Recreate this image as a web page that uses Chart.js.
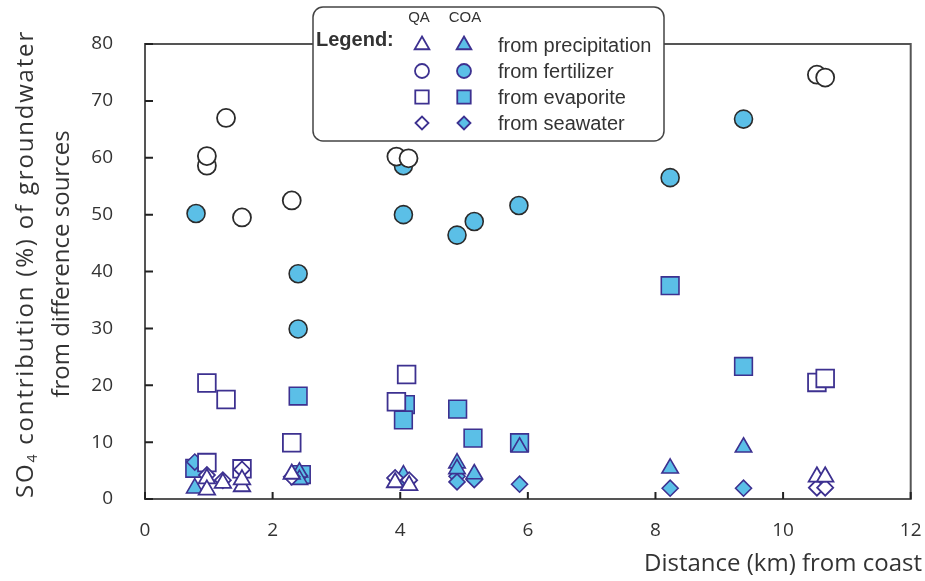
<!DOCTYPE html>
<html>
<head>
<meta charset="utf-8">
<script src="https://cdn.jsdelivr.net/npm/chart.js@4/dist/chart.umd.min.js"></script>
<style>html,body{margin:0;background:#fff}</style>
</head>
<body>
<canvas id="chart" width="925" height="581"></canvas>
<script>
// SO4 sources, QA = open markers, COA = filled markers
const precQA_x = [0.97, 0.97, 1.22, 1.52, 1.52, 2.3, 3.92, 4.14, 10.53, 10.66];
const precQA_y = [3.6, 1.6, 2.8, 2.2, 3.4, 4.4, 2.9, 2.4, 3.9, 3.9];
const seaQA_x = [0.97, 1.22, 1.52, 2.3, 3.92, 4.14, 10.53, 10.66];
const seaQA_y = [4.2, 3.3, 5.2, 3.9, 3.7, 3.3, 2.0, 2.0];
const evapQA_x = [0.97, 1.27, 0.97, 1.52, 2.3, 3.94, 4.1, 10.53, 10.66];
const evapQA_y = [20.4, 17.5, 6.4, 5.3, 9.9, 17.1, 21.9, 20.5, 21.2];
const fertQA_x = [0.97, 0.97, 1.27, 1.52, 2.3, 3.94, 4.13, 10.53, 10.66];
const fertQA_y = [58.6, 60.3, 67.0, 49.5, 52.5, 60.2, 59.9, 74.6, 74.1];

const precCOA_x = [0.78, 2.42, 2.42, 4.05, 4.89, 4.89, 5.16, 5.87, 8.23, 9.38];
const precCOA_y = [1.9, 4.7, 3.4, 4.2, 6.3, 5.3, 4.4, 9.1, 5.4, 9.1];
const seaCOA_x = [0.78, 2.42, 4.05, 4.89, 4.89, 5.16, 5.87, 8.23, 9.38];
const seaCOA_y = [6.5, 4.1, 3.6, 4.0, 3.0, 3.4, 2.6, 1.9, 1.9];
const evapCOA_x = [0.78, 2.4, 2.45, 4.08, 4.05, 4.9, 5.14, 5.87, 8.23, 9.38];
const evapCOA_y = [5.4, 18.1, 4.3, 16.6, 13.9, 15.8, 10.7, 9.9, 37.5, 23.3];
const fertCOA_x = [0.8, 2.4, 2.4, 4.05, 4.05, 4.89, 5.16, 5.86, 8.23, 9.38];
const fertCOA_y = [50.2, 39.6, 29.9, 58.6, 50.0, 46.4, 48.8, 51.6, 56.5, 66.8];

const xTicks = [0, 2, 4, 6, 8, 10, 12];
const yTicks = [0, 10, 20, 30, 40, 50, 60, 70, 80];
const legendLabels = ['from precipitation', 'from fertilizer', 'from evaporite', 'from seawater'];

const purple = '#3d3190';
const cyan = '#5bbfe7';
const dark = '#2b2b2b';
const textCol = '#333';

function pts(xs, ys) {
    return xs.map((x, i) => ({ x: x, y: ys[i] }));
}

function ds(label, xs, ys, style, filled, radius) {
    const edge = style === 'circle' ? dark : purple;
    return {
        label: label,
        data: pts(xs, ys),
        pointStyle: style,
        pointRadius: radius,
        pointHoverRadius: radius,
        pointBorderWidth: filled ? 1.6 : 1.8,
        borderColor: edge,
        backgroundColor: filled ? cyan : '#fff',
        showLine: false
    };
}

// first dataset is painted last (on top)
const datasets = [
    ds('QA precipitation', precQA_x, precQA_y, 'triangle', false, 9.5),
    ds('QA seawater', seaQA_x, seaQA_y, 'rectRot', false, 8),
    ds('QA evaporite', evapQA_x, evapQA_y, 'rect', false, 12.5),
    ds('QA fertilizer', fertQA_x, fertQA_y, 'circle', false, 9),
    ds('COA precipitation', precCOA_x, precCOA_y, 'triangle', true, 9.5),
    ds('COA seawater', seaCOA_x, seaCOA_y, 'rectRot', true, 8),
    ds('COA evaporite', evapCOA_x, evapCOA_y, 'rect', true, 12.5),
    ds('COA fertilizer', fertCOA_x, fertCOA_y, 'circle', true, 9)
];

const framePlugin = {
    id: 'frame',
    beforeDatasetsDraw(chart) {
        const { ctx, chartArea: a, scales } = chart;
        ctx.save();
        ctx.strokeStyle = '#555';
        ctx.lineWidth = 2;
        ctx.strokeRect(a.left, a.top, a.right - a.left, a.bottom - a.top);
        // inward tick marks
        ctx.strokeStyle = '#222';
        ctx.lineWidth = 2;
        ctx.beginPath();
        xTicks.forEach(v => {
            const px = scales.x.getPixelForValue(v);
            ctx.moveTo(px, a.bottom);
            ctx.lineTo(px, a.bottom - 7);
        });
        yTicks.forEach(v => {
            const py = scales.y.getPixelForValue(v);
            ctx.moveTo(a.left, py);
            ctx.lineTo(a.left + 8, py);
        });
        ctx.stroke();
        ctx.restore();
    },
    afterDraw(chart) {
        const ctx = chart.ctx;
        ctx.save();
        ctx.fillStyle = textCol;
        // y title, two rotated lines
        ctx.translate(26, 264);
        ctx.rotate(-Math.PI / 2);
        ctx.textBaseline = 'middle';
        const big = '24px "Open Sans"';
        const small = '14px "Open Sans"';
        const p1 = 'SO', p3 = ' contribution (%) of groundwater';
        ctx.font = big;
        const raw = ctx.measureText(p1 + p3).width;
        const sp = Math.max(0, (460 - raw) / (p1.length + p3.length + 1));
        ctx.letterSpacing = sp + 'px';
        const w1 = ctx.measureText(p1).width;
        const w3 = ctx.measureText(p3).width;
        ctx.font = small;
        const w2 = ctx.measureText('4').width;
        let sx = -(w1 + w2 + w3) / 2;
        ctx.font = big;
        ctx.textAlign = 'left';
        ctx.fillText(p1, sx, 0);
        ctx.font = small;
        ctx.fillText('4', sx + w1, 7);
        ctx.font = big;
        ctx.fillText(p3, sx + w1 + w2, 0);
        ctx.letterSpacing = '0px';
        ctx.textAlign = 'center';
        ctx.fillText('from difference sources', 0, 36);
        ctx.restore();

        // x title
        ctx.save();
        ctx.fillStyle = textCol;
        ctx.font = '24px "Open Sans"';
        ctx.textAlign = 'right';
        ctx.textBaseline = 'middle';
        ctx.fillText('Distance (km) from coast', 922, 564);
        ctx.restore();

        // legend box
        ctx.save();
        ctx.fillStyle = '#fff';
        ctx.strokeStyle = '#444';
        ctx.lineWidth = 1.5;
        ctx.beginPath();
        ctx.roundRect(313, 7, 351, 134, 10);
        ctx.fill();
        ctx.stroke();
        ctx.fillStyle = textCol;
        ctx.textBaseline = 'middle';
        ctx.textAlign = 'center';
        ctx.font = '15px "Liberation Sans Narrow", "Liberation Sans"';
        ctx.fillText('QA', 419, 18);
        ctx.fillText('COA', 465, 18);
        ctx.textAlign = 'left';
        ctx.font = 'bold 20px "Liberation Sans Narrow", "Liberation Sans"';
        ctx.fillText('Legend:', 316, 40);
        ctx.font = '20px "Liberation Sans Narrow", "Liberation Sans"';
        const styles = ['triangle', 'circle', 'rect', 'rectRot'];
        const radii = [8.5, 7, 9.5, 6.5];
        const rows = [45, 71, 97, 123];
        styles.forEach((s, i) => {
            ctx.lineWidth = 1.8;
            ctx.strokeStyle = purple;
            ctx.fillStyle = '#fff';
            Chart.helpers.drawPoint(ctx, { pointStyle: s, radius: radii[i], borderWidth: 1.8 }, 422, rows[i]);
            ctx.fillStyle = cyan;
            Chart.helpers.drawPoint(ctx, { pointStyle: s, radius: radii[i], borderWidth: 1.8 }, 464, rows[i]);
            ctx.fillStyle = textCol;
            ctx.fillText(legendLabels[i], 498, rows[i] + 1);
        });
        ctx.restore();
    }
};

new Chart(document.getElementById('chart'), {
    type: 'scatter',
    data: { datasets: datasets },
    options: {
        responsive: false,
        animation: false,
        events: [],
        layout: { padding: { top: 44, right: 13, left: 0, bottom: 0 } },
        plugins: {
            legend: { display: false },
            tooltip: { enabled: false }
        },
        scales: {
            x: {
                type: 'linear',
                min: 0,
                max: 12,
                afterFit: s => { s.height = 82; s.paddingLeft = 0; s.paddingRight = 0; },
                afterBuildTicks: s => { s.ticks = xTicks.map(v => ({ value: v })); },
                grid: { display: false, drawTicks: false },
                border: { display: false },
                ticks: { color: textCol, padding: 20, font: { family: 'Open Sans', size: 19 } }
            },
            y: {
                type: 'linear',
                min: 0,
                max: 80,
                afterFit: s => { s.width = 145; s.paddingTop = 0; s.paddingBottom = 0; },
                afterBuildTicks: s => { s.ticks = yTicks.map(v => ({ value: v })); },
                grid: { display: false, drawTicks: false },
                border: { display: false },
                ticks: { color: textCol, padding: 32, font: { family: 'Open Sans', size: 19 } }
            }
        }
    },
    plugins: [framePlugin]
});
</script>
</body>
</html>
